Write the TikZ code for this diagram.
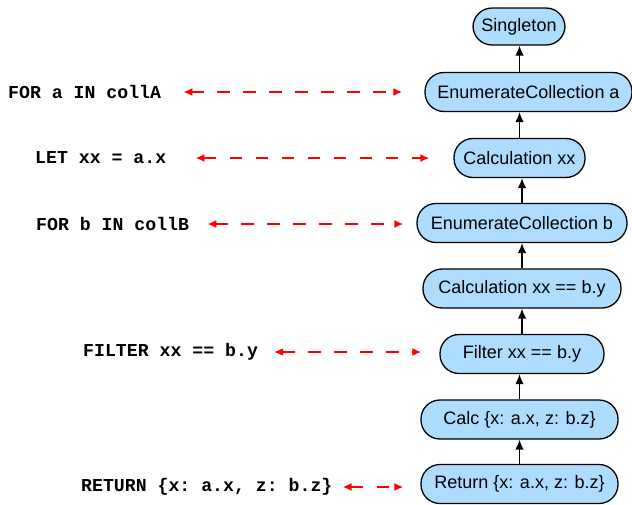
\documentclass[tikz,border=0pt]{standalone}
\usepackage{fontspec}
\setmainfont{Liberation Sans}
\setmonofont{Liberation Mono}
\usetikzlibrary{arrows.meta}
\definecolor{nodeblue}{RGB}{174,220,255}
\definecolor{relred}{RGB}{255,0,0}
\begin{document}
\begin{tikzpicture}[x=1pt,y=-1pt,
  plan/.style={draw=black, line width=1.3pt, fill=nodeblue, rounded corners=19pt,
    minimum height=39pt, inner sep=0pt, font=\fontsize{18}{20}\selectfont},
  code/.style={anchor=west, inner sep=0pt, font=\fontsize{18.2}{20}\selectfont\ttfamily\bfseries},
  flow/.style={line width=1.4pt, -{Latex[length=10pt,width=8.5pt]}},
  rel/.style={relred, line width=1.8pt, dash pattern=on 12.5pt off 13.5pt,
    {Latex[length=9pt,width=8pt]}-{Latex[length=9pt,width=8pt]}}]
\useasboundingbox (0,0) rectangle (632,504);
% plan nodes
\node[plan, minimum width=92pt, minimum height=37pt] (single) at (519,26.5) {Singleton};
\node[plan, minimum width=207pt] (enumA) at (528.5,92) {EnumerateCollection a};
\node[plan, minimum width=131pt] (calcxx) at (519.5,158) {Calculation xx};
\node[plan, minimum width=210pt] (enumB) at (522,223) {EnumerateCollection b};
\node[plan, minimum width=198pt] (calcby) at (522,288.5) {Calculation xx == b.y};
\node[plan, minimum width=164pt] (filter) at (522,354) {Filter xx == b.y};
\node[plan, minimum width=197pt] (calcret) at (519.5,419.5) {Calc \{x: a.x, z: b.z\}};
\node[plan, minimum width=197pt] (ret) at (519.5,484) {Return \{x: a.x, z: b.z\}};
% flow arrows
\draw[flow] (ret) -- (ret |- calcret.south);
\draw[flow] (calcret) -- (calcret |- filter.south);
\draw[flow] (filter) -- (filter |- calcby.south);
\draw[flow] (calcby) -- (calcby |- enumB.south);
\draw[flow] (enumB) -- (enumB |- calcxx.south);
\draw[flow] (calcxx) -- (calcxx |- enumA.south);
\draw[flow] (calcxx |- enumA.north) -- (calcxx |- single.south);
% code labels
\node[code] (lA) at (8,92) {FOR a IN collA};
\node[code] (lLet) at (35,158) {LET xx = a.x};
\node[code] (lB) at (36,224) {FOR b IN collB};
\node[code] (lF) at (83,352) {FILTER xx == b.y};
\node[code] (lR) at (81,487) {RETURN \{x: a.x, z: b.z\}};
% relation arrows
\draw[rel, shorten <=22pt, shorten >=22pt] (lA.east) -- (lA.east -| enumA.west);
\draw[rel, shorten <=29pt, shorten >=24pt] (lLet.east) -- (lLet.east -| calcxx.west);
\draw[rel, shorten <=18pt, shorten >=13pt] (lB.east) -- (lB.east -| enumB.west);
\draw[rel, shorten <=16pt, shorten >=18pt] (lF.east) -- (lF.east -| filter.west);
\draw[rel, shorten <=10pt, shorten >=17pt] (lR.east) -- (lR.east -| ret.west);
\end{tikzpicture}
\end{document}
